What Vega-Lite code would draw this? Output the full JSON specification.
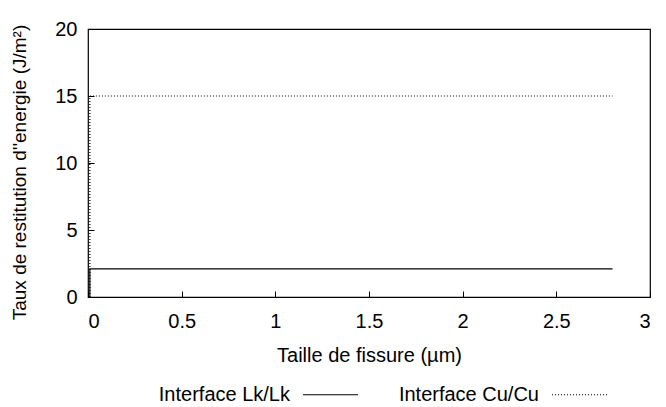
{
  "$schema": "https://vega.github.io/schema/vega-lite/v6.json",
  "width": 562,
  "height": 268,
  "autosize": "none",
  "padding": {"left": 88, "top": 29, "right": 16, "bottom": 110},
  "background": "white",
  "config": {
    "font": "Liberation Sans",
    "view": {"stroke": "black", "strokeWidth": 1.2},
    "axis": {
      "grid": false,
      "domain": false,
      "tickColor": "black",
      "tickSize": -6,
      "labelColor": "black",
      "titleColor": "black",
      "labelFont": "Liberation Sans",
      "titleFont": "Liberation Sans",
      "labelFontSize": 20,
      "titleFontSize": 20,
      "titleFontWeight": "normal"
    }
  },
  "data": {
    "values": [
      {"x": 0.01, "y": 0, "serie": "Interface Lk/Lk", "o": 1},
      {"x": 0.01, "y": 2.1, "serie": "Interface Lk/Lk", "o": 2},
      {"x": 2.8, "y": 2.1, "serie": "Interface Lk/Lk", "o": 3},
      {"x": 0.01, "y": 0, "serie": "Interface Cu/Cu", "o": 1},
      {"x": 0.01, "y": 15, "serie": "Interface Cu/Cu", "o": 2},
      {"x": 2.8, "y": 15, "serie": "Interface Cu/Cu", "o": 3}
    ]
  },
  "layer": [
    {
      "mark": {"type": "line", "color": "black", "strokeWidth": 1.2},
      "encoding": {
        "x": {
          "field": "x", "type": "quantitative",
          "scale": {"domain": [0, 3], "nice": false, "zero": false},
          "axis": {"title": "Taille de fissure (µm)", "values": [0, 0.5, 1, 1.5, 2, 2.5, 3], "format": "~g", "labelPadding": 20, "titlePadding": 14}
        },
        "y": {
          "field": "y", "type": "quantitative",
          "scale": {"domain": [0, 20], "nice": false},
          "axis": {"title": "Taux de restitution d''energie (J/m²)", "titleFontSize": 19, "titleY": 143, "values": [0, 5, 10, 15, 20], "labelPadding": 17, "titlePadding": 25}
        },
        "order": {"field": "o"},
        "strokeDash": {
          "field": "serie", "type": "nominal",
          "scale": {"domain": ["Interface Lk/Lk", "Interface Cu/Cu"], "range": [[1, 0], [1, 2]]},
          "legend": {
            "title": null,
            "orient": "none",
            "direction": "horizontal",
            "legendX": 214,
            "legendY": 337,
            "symbolType": "stroke",
            "symbolSize": 3025,
            "symbolStrokeColor": "black",
            "symbolStrokeWidth": 1.2,
            "labelFont": "Liberation Sans",
            "labelFontSize": 20,
            "labelColor": "black",
            "labelAlign": "right",
            "labelOffset": -69,
            "columnPadding": 37,
            "symbolOffset": 0
          }
        }
      }
    }
  ]
}
